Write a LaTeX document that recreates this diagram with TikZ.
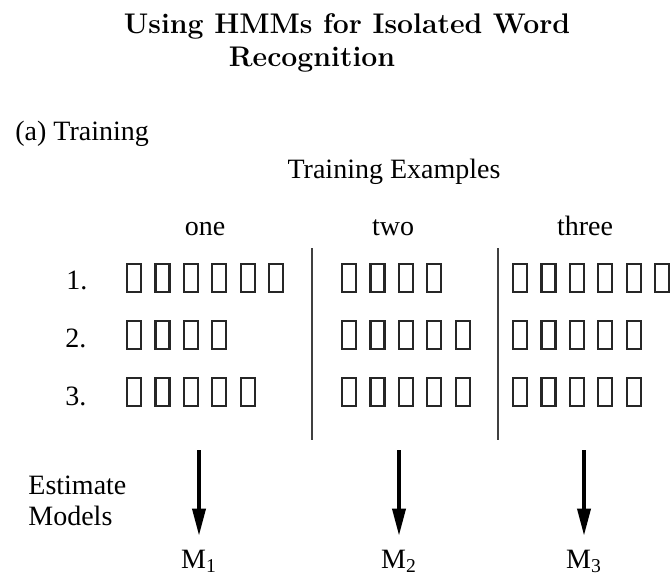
\documentclass[tikz,border=0pt]{standalone}
\usepackage{fontspec}
\newfontfamily\timesfont{Liberation Serif}
\usetikzlibrary{arrows.meta}

\begin{document}
\begin{tikzpicture}[x=0.5pt, y=-0.5pt,
    txt/.style={font=\timesfont\fontsize{14}{17}\selectfont, inner sep=0pt, anchor=base},
    heading/.style={font=\bfseries\fontsize{14.2}{17}\selectfont, inner sep=0pt, anchor=base},
    seg/.style={draw=black!85, line width=1.1pt, minimum width=7pt, minimum height=14pt, inner sep=0pt},
    divider/.style={draw=black!75, line width=1.4pt},
    model/.style={txt, outer sep=7pt},
    estimate/.style={-{Triangle[length=13.5pt, width=6.5pt]}, line width=1.8pt},
  ]
  \useasboundingbox (0,0) rectangle (672,578);

  % title
  \node[heading] (title) at (347,33) {Using HMMs for Isolated Word};
  \node[heading] (title2) at (312,66) {Recognition};

  \node[txt, anchor=base west] (part) at (15,140) {(a) Training};
  \node[txt] (examples) at (394,178) {Training Examples};

  % word columns
  \node[txt] (one) at (205,235) {one};
  \node[txt] (two) at (393,235) {two};
  \node[txt] (three) at (585,235) {three};

  \node[txt, anchor=base west] (n1) at (66,289) {1.};
  \node[txt, anchor=base west] (n2) at (65,347) {2.};
  \node[txt, anchor=base west] (n3) at (65,405) {3.};

  % frames of each example
  \foreach \col/\xo/\na/\nb/\nc in {one/126/6/4/5, two/341/4/5/5, three/512/6/5/5} {
    \foreach \r/\n/\y in {1/\na/278, 2/\nb/335, 3/\nc/392} {
      \foreach \i in {1,...,\n}
        \node[seg] (\col-\r-\i) at ({\xo+8+(\i-1)*28.4},\y) {};
    }
  }

  \coordinate (d1t) at (312,248);
  \coordinate (d1b) at (312,440);
  \coordinate (d2t) at (498,248);
  \coordinate (d2b) at (498,440);
  \draw[divider] (d1t) -- (d1b);
  \draw[divider] (d2t) -- (d2b);

  % estimate models
  \node[txt, anchor=base west] (est) at (28,494) {Estimate};
  \node[txt, anchor=base west] (mod) at (28,525) {Models};

  \foreach \k/\x in {1/199, 2/399, 3/584} {
    \coordinate (a\k) at (\x,450);
    \node[model] (m\k) at (\x,568) {M\textsubscript{\k}};
    \draw[estimate] (a\k) -- (m\k);
  }
\end{tikzpicture}
\end{document}
